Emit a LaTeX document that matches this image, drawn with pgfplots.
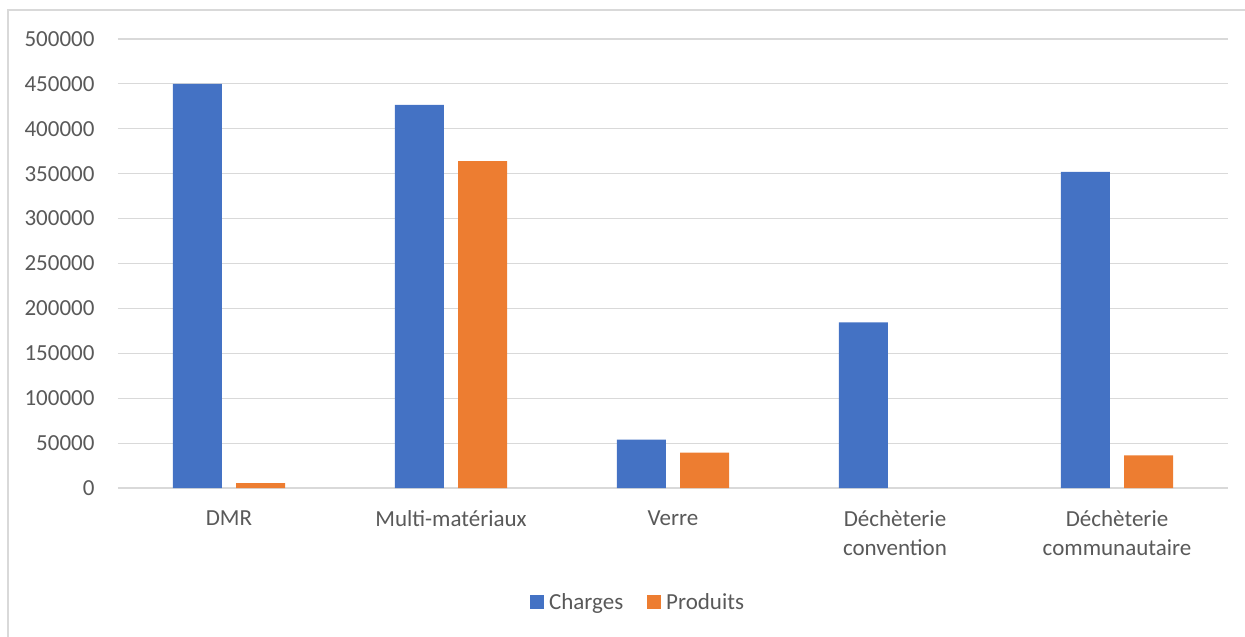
\documentclass[border=0pt]{standalone}
\usepackage{pgfplots}
\pgfplotsset{compat=1.18}
\usepackage{fontspec}
\setmainfont{Carlito}
\definecolor{cblue}{HTML}{4472C4}
\definecolor{corange}{HTML}{ED7D31}
\definecolor{gridc}{HTML}{D9D9D9}
\definecolor{txt}{HTML}{595959}
\begin{document}
\begin{tikzpicture}[x=1pt,y=1pt]
\useasboundingbox (-118,-149) rectangle (1127,488);
\draw[gridc, line width=1.2pt] (-110,-160) -- (-110,478) -- (1140,478);
\begin{axis}[
  at={(0,0)}, anchor=south west,
  scale only axis, width=1110pt, height=449pt,
  xmin=-0.5, xmax=4.5, ymin=0, ymax=500000,
  ytick={0,50000,...,500000},
  xtick={0,1,2,3,4},
  xticklabels={DMR, Multi-matériaux, Verre, Déchèterie\\convention, Déchèterie\\communautaire},
  xticklabel style={align=center, font=\fontsize{23}{29}\selectfont, text=txt, yshift=-19pt},
  yticklabel style={font=\fontsize{23}{24}\selectfont, text=txt, xshift=-20pt,
    /pgf/number format/fixed, /pgf/number format/1000 sep={}, /pgf/number format/assume math mode=true},
  scaled y ticks=false,
  major tick length=0pt,
  axis line style={draw=none},
  ymajorgrids, grid style={gridc, line width=1.2pt},
  ybar, bar width=49pt,
  legend style={at={(0.4685,-0.254)}, anchor=center, draw=none, legend columns=2,
    font=\fontsize{23}{24}\selectfont, text=txt,
    /tikz/every odd column/.append style={column sep=3pt},
    /tikz/every even column/.append style={column sep=22pt}},
  legend image code/.code={\fill[#1] (0pt,-7pt) rectangle (14pt,7pt);},
]
\addplot[fill=cblue, draw=none, bar shift=-31.7pt] coordinates {(0,450000) (1,426700) (2,54000) (3,184500) (4,352000)};
\addplot[fill=corange, draw=none, bar shift=31.7pt] coordinates {(0,5500) (1,364000) (2,39400) (4,36200)};
\legend{Charges, Produits}
\end{axis}
\end{tikzpicture}
\end{document}
